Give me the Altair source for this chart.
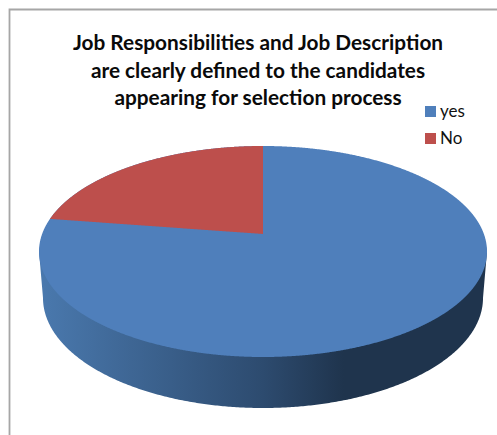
import numpy as np
import pandas as pd
import altair as alt

TITLE_LINES = [
    "Job Responsibilities and Job Description",
    "are clearly defined to the candidates",
    "appearing for selection process",
]
CATEGORIES = ["yes", "No"]
SHARES = [80, 20]
SLICE_COLORS = ["#4f7fbb", "#bd4f4c"]

W, H = 497, 435
FONT = "Lato"

# Oblique pie geometry, in canvas units.
CX = 263
TOP_CY, TOP_RX, TOP_RY = 251.5, 224, 105.5
BOTTOM_CY, BOTTOM_RX, BOTTOM_RY = 298, 220, 110
APEX_Y = 234

x_scale = alt.Scale(domain=[0, W], range=[0, W])
y_scale = alt.Scale(domain=[0, H], range=[0, H])
x_enc = alt.X("x:Q", scale=x_scale, axis=None)
y_enc = alt.Y("y:Q", scale=y_scale, axis=None)


def rim(cy, rx, ry, xs, sign):
    t = np.clip((xs - CX) / rx, -1, 1)
    return cy + sign * ry * np.sqrt(1 - t ** 2)


# Side wall: drop from the top face to the lower rim, shaded left to right.
xs_side = np.concatenate([
    [CX - TOP_RX],
    CX + BOTTOM_RX * np.sin(np.linspace(-np.pi / 2, np.pi / 2, 361)),
    [CX + TOP_RX],
])
side_lower = rim(BOTTOM_CY, BOTTOM_RX, BOTTOM_RY, xs_side, 1)
side_lower[0] = side_lower[-1] = TOP_CY
side = pd.DataFrame({"x": xs_side, "y": rim(TOP_CY, TOP_RX, TOP_RY, xs_side, 1) - 5, "y2": side_lower})
side_mark = alt.Chart(side).mark_area(
    orient="vertical",
    color=alt.Gradient(
        gradient="linear",
        x1=0, x2=1, y1=0, y2=0,
        stops=[
            alt.GradientStop(offset=0, color="#4a79ae"),
            alt.GradientStop(offset=0.5, color="#2d4b6f"),
            alt.GradientStop(offset=0.68, color="#1f344d"),
            alt.GradientStop(offset=1, color="#1f344d"),
        ],
    ),
).encode(x=x_enc, y=y_enc, y2="y2:Q")

color = alt.Color(
    "category:N",
    scale=alt.Scale(domain=CATEGORIES, range=SLICE_COLORS),
    legend=alt.Legend(
        orient="none",
        legendX=422,
        legendY=103,
        title=None,
        symbolType="square",
        symbolSize=121,
        symbolStrokeWidth=0,
        labelFont=FONT,
        labelFontSize=17,
        labelColor="#111111",
        rowPadding=9,
        labelOffset=1,
        padding=0,
    ),
)

# Whole top face in the leading slice colour.
xs_top = CX + TOP_RX * np.sin(np.linspace(-np.pi / 2, np.pi / 2, 721))
top = pd.DataFrame({
    "x": xs_top,
    "y": rim(TOP_CY, TOP_RX, TOP_RY, xs_top, -1),
    "y2": rim(TOP_CY, TOP_RX, TOP_RY, xs_top, 1),
    "category": CATEGORIES[0],
})
top_mark = alt.Chart(top).mark_area(orient="vertical").encode(
    x=x_enc, y=y_enc, y2="y2:Q", color=color
)

# Second slice runs anticlockwise from twelve o'clock by its share of the circle.
angle = 2 * np.pi * SHARES[1] / sum(SHARES)
edge_x = CX - TOP_RX * np.sin(angle)
edge_y = TOP_CY - TOP_RY * np.cos(angle)
xs_wedge = np.linspace(edge_x, CX, 240)
wedge = pd.DataFrame({
    "x": xs_wedge,
    "y": rim(TOP_CY, TOP_RX, TOP_RY, xs_wedge, -1),
    "y2": edge_y + (APEX_Y - edge_y) * (xs_wedge - edge_x) / (CX - edge_x),
    "category": CATEGORIES[1],
})
wedge_mark = alt.Chart(wedge).mark_area(orient="vertical").encode(
    x=x_enc, y=y_enc, y2="y2:Q", color=color
)

# Chart frame: only its left and top edges fall inside the canvas.
frame = alt.Chart(pd.DataFrame({"x": [9.5], "x2": [W + 5], "y": [9.5], "y2": [H + 5]})).mark_rect(
    fill="white", stroke="#a6a6a6", strokeWidth=1.8, clip=False
).encode(x=x_enc, x2="x2:Q", y=y_enc, y2="y2:Q")

title_df = pd.DataFrame({"line": TITLE_LINES, "y": [50, 77.5, 105]})
title_mark = alt.Chart(title_df).mark_text(
    font=FONT, fontSize=20.8, fontWeight="bold", color="#0a0a0a", baseline="alphabetic"
).encode(x=alt.value(258), y=y_enc, text="line:N")

chart = (
    alt.layer(frame, side_mark, top_mark, wedge_mark, title_mark)
    .properties(width=W, height=H, padding=0, background="white", autosize=alt.AutoSizeParams(type="none"))
    .configure_view(stroke=None)
)
chart.save("out.html", embed_options={"renderer": "svg", "actions": False})
